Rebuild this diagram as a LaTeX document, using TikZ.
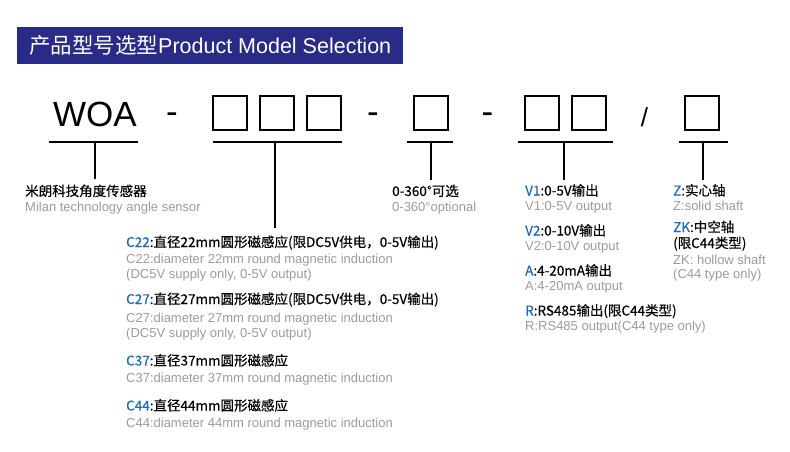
\documentclass[tikz,border=0pt]{standalone}
\usepackage{fontspec}
\setmainfont{Liberation Sans}
\newfontfamily\cjk[FakeBold=0.4]{Noto Sans CJK SC}
\newfontfamily\cjktitle{Noto Sans CJK SC}
\usepackage{xcolor}
\usetikzlibrary{positioning}
\definecolor{bannerblue}{RGB}{42,42,135}
\definecolor{codeblue}{RGB}{30,105,185}
\definecolor{engray}{RGB}{155,155,155}
\newcommand{\code}[1]{\textcolor{codeblue}{#1}}

\begin{document}
\begin{tikzpicture}[x=1pt, y=-1pt,
    banner/.style={fill=bannerblue, text=white, anchor=north west,
                   minimum height=37pt, minimum width=386pt, inner sep=0pt,
                   font=\fontsize{21.5}{22}\selectfont},
    box/.style={draw, line width=2.4pt, minimum width=34.2pt,
                minimum height=33.6pt, inner sep=0pt},
    big/.style={anchor=base, inner sep=0pt, font=\fontsize{35}{35}\selectfont},
    tree/.style={line width=1.8pt},
    cn/.style={anchor=base west, inner sep=0pt,
               font=\cjk\fontsize{13.5}{14}\selectfont},
    en/.style={anchor=base west, inner sep=0pt, text=engray,
               font=\fontsize{13}{14}\selectfont}
  ]
    \useasboundingbox (0,0) rectangle (790,451);

    % title
    \node[banner] (title) at (17,27) {{\cjktitle 产品型号选型}Product Model Selection};

    % model code
    \node[big] (woa) at (95,126) {WOA};
    \node[big] (d1) at (172,123) {-};
    \node[box] (b1) at (229.8,113) {};
    \node[box, right=10.5pt of b1] (b2) {};
    \node[box, right=10.5pt of b2] (b3) {};
    \node[big] (d2) at (373,123) {-};
    \node[box] (b4) at (431,113) {};
    \node[big] (d3) at (487.5,123) {-};
    \node[box] (b5) at (541.8,113) {};
    \node[box, right=10.5pt of b5] (b6) {};
    \node[big, font=\fontsize{26}{26}\selectfont] (sl) at (644.5,126) {/};
    \node[box] (b7) at (702,113) {};

    % brackets
    \coordinate (s1) at (95,142);   \coordinate (e1) at (95,179);
    \coordinate (s2) at (275,142);  \coordinate (e2) at (275,228);
    \coordinate (s3) at (431,142);  \coordinate (e3) at (431,180);
    \coordinate (s4) at (564,142);  \coordinate (e4) at (564,180);
    \coordinate (s5) at (703,142);  \coordinate (e5) at (703,180);
    \draw[tree] (woa.west |- s1) ++(-4,0) -- ([xshift=1pt]woa.east |- s1);
    \draw[tree] ([xshift=1.5pt]b1.west |- s2) -- (b3.east |- s2);
    \draw[tree] ([xshift=-5.7pt]b4.west |- s3) -- ([xshift=3.7pt]b4.east |- s3);
    \draw[tree] ([xshift=-5.8pt]b5.west |- s4) -- ([xshift=6pt]b6.east |- s4);
    \draw[tree] ([xshift=-4.7pt]b7.west |- s5) -- ([xshift=7.7pt]b7.east |- s5);
    \draw[tree] (s1) -- (e1);
    \draw[tree] (s2) -- (e2);
    \draw[tree] (s3) -- (e3);
    \draw[tree] (s4) -- (e4);
    \draw[tree] (s5) -- (e5);

    % series
    \node[cn] (brand) at (25,196) {米朗科技角度传感器};
    \node[en] (brande) at (25,211) {Milan technology angle sensor};

    % size
    \node[cn] (c22) at (126,247) {\code{C22}:直径22mm圆形磁感应(限DC5V供电，0-5V输出)};
    \node[en] (c22e) at (126,263.5) {C22:diameter 22mm round magnetic induction};
    \node[en] (c22f) at (126,278) {(DC5V supply only, 0-5V output)};
    \node[cn] (c27) at (126,304) {\code{C27}:直径27mm圆形磁感应(限DC5V供电，0-5V输出)};
    \node[en] (c27e) at (126,322) {C27:diameter 27mm round magnetic induction};
    \node[en] (c27f) at (126,337) {(DC5V supply only, 0-5V output)};
    \node[cn] (c37) at (126,365.5) {\code{C37}:直径37mm圆形磁感应};
    \node[en] (c37e) at (126,382.5) {C37:diameter 37mm round magnetic induction};
    \node[cn] (c44) at (126,410.5) {\code{C44}:直径44mm圆形磁感应};
    \node[en] (c44e) at (126,427.5) {C44:diameter 44mm round magnetic induction};

    % angle
    \node[cn] (ang) at (392,196) {0-360°可选};
    \node[en] (ange) at (392,211) {0-360°optional};

    % output
    \node[cn] (v1) at (525,195.5) {\code{V1}:0-5V输出};
    \node[en] (v1e) at (525,210.5) {V1:0-5V output};
    \node[cn] (v2) at (525,235.5) {\code{V2}:0-10V输出};
    \node[en] (v2e) at (525,250.5) {V2:0-10V output};
    \node[cn] (ma) at (525,275.5) {\code{A}:4-20mA输出};
    \node[en] (mae) at (525,290.5) {A:4-20mA output};
    \node[cn] (rs) at (525,315.5) {\code{R}:RS485输出(限C44类型)};
    \node[en] (rse) at (525,330) {R:RS485 output(C44 type only)};

    % shaft
    \node[cn] (z) at (673,195.5) {\code{Z}:实心轴};
    \node[en] (ze) at (673,210.5) {Z:solid shaft};
    \node[cn] (zk) at (673,232) {\code{ZK}:中空轴};
    \node[cn] (zk2) at (673,248) {(限C44类型)};
    \node[en] (zke) at (673,264.5) {ZK: hollow shaft};
    \node[en] (zkf) at (673,278) {(C44 type only)};
  \end{tikzpicture}
\end{document}
